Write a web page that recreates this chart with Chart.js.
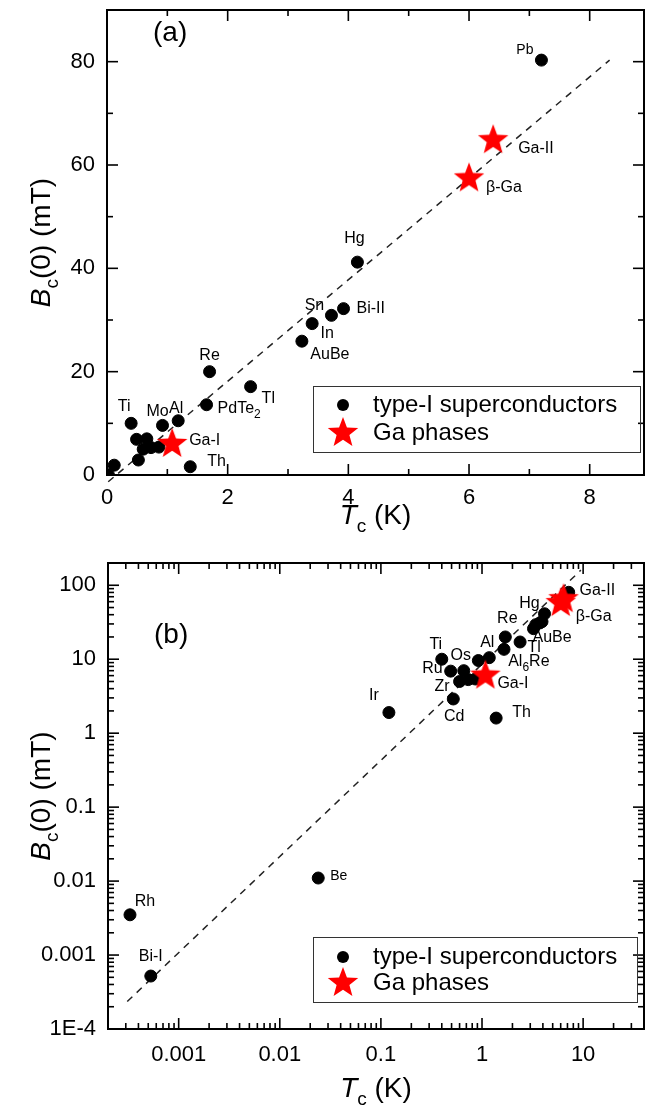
<!DOCTYPE html>
<html><head><meta charset="utf-8">
<script src="https://cdn.jsdelivr.net/npm/chart.js@4.4.1/dist/chart.umd.min.js"></script>
<style>
html,body{margin:0;padding:0;background:#fff;}
#wrap{position:relative;width:651px;height:1108px;overflow:hidden;}
canvas{position:absolute;left:0;}
#c1{top:0;} #c2{top:540px;}
</style></head><body>
<div id="wrap"><canvas id="c1" width="651" height="540"></canvas><canvas id="c2" width="651" height="568"></canvas></div>
<script>
// ---------------- data ----------------
const materials = ['Pb','Hg','Bi-II','Sn','In','AuBe','Tl','Re','PdTe2','Al','Mo','Zn','Al6Re','Os','Zr','Ru','Ti','Cd','Th','Ir','Be','Rh','Bi-I'];
const tcK  = [7.2, 4.15, 3.92, 3.72, 3.40, 3.23, 2.38, 1.70, 1.65, 1.18, 0.92, 0.86, 0.73, 0.66, 0.60, 0.49, 0.40, 0.52, 1.38, 0.12, 0.024, 0.00033, 0.00053];
const bcMT = [80.3, 41.2, 32.2, 30.9, 29.3, 25.9, 17.1, 20.0, 13.6, 10.5, 9.6, 5.4, 5.3, 7.0, 5.0, 6.9, 10.0, 2.9, 1.6, 1.9, 0.011, 0.0035, 0.00052];
const gaPhases = ['Ga-I','β-Ga','Ga-II'];
const gaTcK  = [1.08, 6.0, 6.4];
const gaBcMT = [6.0, 57.4, 64.8];
// dashed guide lines (endpoints)
const guideLinTc = [0.02, 8.33];
const guideLinBc = [-1.3, 80.3];
const guideLogTc = [0.00031, 9.5];
const guideLogBc = [0.000235, 160];
// tick labels
const linTicksX = [0, 2, 4, 6, 8];
const linTicksY = [0, 20, 40, 60, 80];
const logTicksX = [0.001, 0.01, 0.1, 1, 10];
const logTickLabelsX = ['0.001', '0.01', '0.1', '1', '10'];
const logTicksY = [1e-4, 0.001, 0.01, 0.1, 1, 10, 100];
const logTickLabelsY = ['1E-4', '0.001', '0.01', '0.1', '1', '10', '100'];
const legendLabels = ['type-I superconductors', 'Ga phases'];

// ---------------- styles ----------------
const FONT = "'Liberation Sans', Arial, sans-serif";
function makeStar(R){
  const s = Math.ceil(2*R+2);
  const c = document.createElement('canvas'); c.width = s; c.height = s;
  const g = c.getContext('2d'); g.fillStyle = '#ff0000'; g.beginPath();
  const r = R*0.42;
  for(let i=0;i<10;i++){ const a = -Math.PI/2 + i*Math.PI/5; const rr = i%2 ? r : R; g.lineTo(s/2+rr*Math.cos(a), s/2+rr*Math.sin(a)); }
  g.closePath(); g.fill(); return c;
}
const STAR = makeStar(16);

function pts(xs, ys){ return xs.map((x,i)=>({x:x, y:ys[i]})); }

function richText(ctx, parts, x, y, size){
  let w = 0;
  const fonts = parts.map(p => p[1]==='s' ? `${Math.round(size*0.68)}px ${FONT}` : (p[1]==='i' ? `italic ${size}px ${FONT}` : `${size}px ${FONT}`));
  parts.forEach((p,i)=>{ ctx.font = fonts[i]; w += ctx.measureText(p[0]).width; });
  let cx = x - w/2;
  parts.forEach((p,i)=>{ ctx.font = fonts[i]; ctx.fillText(p[0], cx, y + (p[1]==='s' ? size*0.3 : 0)); cx += ctx.measureText(p[0]).width; });
}

function drawLabel(ctx, name, x, y, align, size){
  const segs = name.match(/\d+|[^\d]+/g);
  const big = `${size}px ${FONT}`, small = `${Math.round(size*0.72)}px ${FONT}`;
  let w = 0;
  segs.forEach(s=>{ ctx.font = /^\d+$/.test(s) ? small : big; w += ctx.measureText(s).width; });
  let cx = align==='left' ? x : (align==='right' ? x - w : x - w/2);
  ctx.textBaseline = 'middle';
  segs.forEach(s=>{ const sub = /^\d+$/.test(s); ctx.font = sub ? small : big; ctx.fillText(s, cx, y + (sub ? size*0.35 : 0)); cx += ctx.measureText(s).width; });
}

const framePlugin = {
  id: 'frame',
  afterDatasetsDraw(chart, args, o){
    const {ctx, chartArea:a, scales:{x, y}} = chart;
    ctx.save(); ctx.strokeStyle = '#000'; ctx.lineWidth = 1.6;
    const ln = (x1,y1,x2,y2)=>{ ctx.beginPath(); ctx.moveTo(x1,y1); ctx.lineTo(x2,y2); ctx.stroke(); };
    const xt = (vals,len)=>vals.forEach(v=>{ const p = x.getPixelForValue(v); if(p < a.left+1 || p > a.right-1) return; ln(p,a.bottom,p,a.bottom-len); ln(p,a.top,p,a.top+len); });
    const yt = (vals,len)=>vals.forEach(v=>{ const p = y.getPixelForValue(v); if(p < a.top+1 || p > a.bottom-1) return; ln(a.left,p,a.left+len,p); ln(a.right,p,a.right-len,p); });
    xt(o.xMajor, 11); xt(o.xMinor, 6); yt(o.yMajor, 11); yt(o.yMinor, 6);
    ctx.lineWidth = 2; ctx.strokeRect(a.left, a.top, a.right-a.left, a.bottom-a.top);
    ctx.restore();
  },
  afterDraw(chart, args, o){
    const {ctx, chartArea:a, scales:{x, y}} = chart;
    ctx.save(); ctx.fillStyle = '#000';
    o.labels.forEach(L=>{
      const src = L.ga ? [gaPhases, gaTcK, gaBcMT] : [materials, tcK, bcMT];
      const i = src[0].indexOf(L.n);
      const px = x.getPixelForValue(src[1][i]) + L.dx, py = y.getPixelForValue(src[2][i]) + L.dy;
      drawLabel(ctx, L.n, px, py, L.al || 'center', L.sz || 16);
    });
    ctx.textBaseline = 'middle'; ctx.font = `28px ${FONT}`; ctx.textAlign = 'left';
    ctx.fillText(o.panel, a.left + o.panelPos[0], a.top + o.panelPos[1]);
    ctx.textBaseline = 'alphabetic';
    richText(ctx, [['T','i'],['c','s'],[' (K)','']], (a.left+a.right)/2, o.xTitleY, 28);
    ctx.save(); ctx.translate(o.yTitleX, (a.top+a.bottom)/2); ctx.rotate(-Math.PI/2);
    richText(ctx, [['B','i'],['c','s'],['(0) (mT)','']], 0, 0, 28);
    ctx.restore();
    const L = o.legend;
    ctx.strokeStyle = '#333'; ctx.lineWidth = 1;
    ctx.strokeRect(L.x+0.5, L.y+0.5, L.w, L.h);
    ctx.beginPath(); ctx.arc(L.x+30, L.y+L.r1, 6, 0, Math.PI*2); ctx.fillStyle = '#000'; ctx.fill();
    ctx.drawImage(STAR, L.x+30-STAR.width/2, L.y+L.r2-STAR.height/2);
    ctx.font = `24px ${FONT}`; ctx.textBaseline = 'middle'; ctx.fillStyle = '#000';
    ctx.fillText(legendLabels[0], L.x+60, L.y+L.r1);
    ctx.fillText(legendLabels[1], L.x+60, L.y+L.r2);
    ctx.restore();
  }
};

function datasets(guideTc, guideBc){
  return [
    {type:'line', data: pts(guideTc, guideBc), borderColor:'#222', borderWidth:1.5, borderDash:[7,6], pointRadius:0, fill:false, clip:false, order:3},
    {type:'scatter', data: pts(tcK, bcMT), backgroundColor:'#000', borderColor:'#000', pointRadius:6, pointHoverRadius:6, order:2},
    {type:'scatter', data: pts(gaTcK, gaBcMT), pointStyle: STAR, order:1}
  ];
}

function axis(type, min, max, ticks, labels, size, pad){
  return {
    type: type, min: min, max: max,
    afterBuildTicks: s => { s.ticks = ticks.map(v=>({value:v})); },
    afterFit: s => {
      if (s.isHorizontal()) { s.height = size; } else { s.width = size; }
      s.paddingTop = 0; s.paddingBottom = 0; s.paddingLeft = 0; s.paddingRight = 0;
    },
    ticks: { font:{family:FONT, size:22}, color:'#000', padding: pad, maxRotation:0, autoSkip:false,
             callback: (v,i) => labels ? labels[i] : String(v) },
    grid: { display:false, drawTicks:false },
    border: { display:false }
  };
}

function logMinor(lo, hi){ const out=[]; for(let e=lo;e<=hi;e++){ for(let k=2;k<=9;k++) out.push(k*Math.pow(10,e)); } return out; }

Chart.defaults.animation = false;

new Chart(document.getElementById('c1'), {
  type: 'scatter',
  data: { datasets: datasets(guideLinTc, guideLinBc) },
  options: {
    responsive:false, devicePixelRatio:1, animation:false,
    layout:{ padding:{left:0, right:2, top:10, bottom:0} },
    scales: {
      x: axis('linear', 0, 8.9, linTicksX, null, 65, 10),
      y: axis('linear', 0, 90, linTicksY, null, 107, 12)
    },
    plugins: {
      legend:{display:false}, tooltip:{enabled:false},
      frame: {
        xMajor: linTicksX, xMinor: [1,3,5,7], yMajor: linTicksY, yMinor: [10,30,50,70],
        panel: '(a)', panelPos: [46, 23], xTitleY: 524, yTitleX: 50,
        legend: {x:313, y:386, w:327, h:66, r1:19, r2:47},
        labels: [
          {n:'Pb', dx:-8, dy:-10, al:'right', sz:14},
          {n:'Ga-II', ga:1, dx:25, dy:8, al:'left'},
          {n:'β-Ga', ga:1, dx:17, dy:9, al:'left'},
          {n:'Hg', dx:-3, dy:-24},
          {n:'Sn', dx:-17, dy:-10},
          {n:'In', dx:15, dy:10},
          {n:'AuBe', dx:28, dy:13},
          {n:'Bi-II', dx:13, dy:0, al:'left'},
          {n:'Re', dx:0, dy:-16},
          {n:'Tl', dx:11, dy:12, al:'left'},
          {n:'PdTe2', dx:11, dy:4, al:'left'},
          {n:'Ti', dx:-7, dy:-17},
          {n:'Mo', dx:-5, dy:-14},
          {n:'Al', dx:-2, dy:-12},
          {n:'Ga-I', ga:1, dx:17, dy:-3, al:'left'},
          {n:'Th', dx:17, dy:-5, al:'left'}
        ]
      }
    }
  },
  plugins: [framePlugin]
});

new Chart(document.getElementById('c2'), {
  type: 'scatter',
  data: { datasets: datasets(guideLogTc, guideLogBc) },
  options: {
    responsive:false, devicePixelRatio:1, animation:false,
    layout:{ padding:{left:0, right:6, top:23, bottom:0} },
    scales: {
      x: axis('logarithmic', 2e-4, 40, logTicksX, logTickLabelsX, 79, 13),
      y: axis('logarithmic', 1e-4, 200, logTicksY, logTickLabelsY, 108, 12)
    },
    plugins: {
      legend:{display:false}, tooltip:{enabled:false},
      frame: {
        xMajor: logTicksX, xMinor: logMinor(-4, 1), yMajor: logTicksY, yMinor: logMinor(-4, 2),
        panel: '(b)', panelPos: [46, 72], xTitleY: 557, yTitleX: 50,
        legend: {x:313, y:397, w:324, h:65, r1:20, r2:46},
        labels: [
          {n:'Ga-II', ga:1, dx:16, dy:-9, al:'left'},
          {n:'β-Ga', ga:1, dx:15, dy:14, al:'left'},
          {n:'Hg', dx:-15, dy:-10},
          {n:'Re', dx:2, dy:-18},
          {n:'AuBe', dx:-1, dy:9, al:'left'},
          {n:'Tl', dx:14, dy:6},
          {n:'Al', dx:-2, dy:-15},
          {n:'Al6Re', dx:40, dy:-18, al:'left'},
          {n:'Ti', dx:-6, dy:-15},
          {n:'Os', dx:-3, dy:-15},
          {n:'Ru', dx:-8, dy:-3, al:'right'},
          {n:'Zr', dx:-10, dy:5, al:'right'},
          {n:'Ga-I', ga:1, dx:12, dy:8, al:'left'},
          {n:'Cd', dx:1, dy:18},
          {n:'Th', dx:16, dy:-5, al:'left'},
          {n:'Ir', dx:-15, dy:-17},
          {n:'Be', dx:12, dy:-2, al:'left', sz:14},
          {n:'Rh', dx:15, dy:-13},
          {n:'Bi-I', dx:0, dy:-19}
        ]
      }
    }
  },
  plugins: [framePlugin]
});
</script>
</body></html>
